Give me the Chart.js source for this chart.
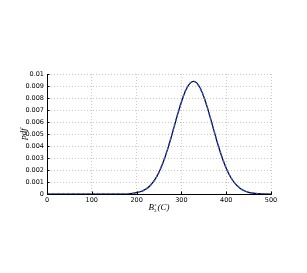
<!DOCTYPE html>
<html>
<head>
<meta charset="utf-8">
<script src="https://cdn.jsdelivr.net/npm/chart.js@4"></script>
<style>
html,body{margin:0;padding:0;background:#fff;}
canvas{display:block;}
</style>
</head>
<body>
<canvas id="c" width="307" height="273"></canvas>
<script>
const xValues = [0,10,20,30,40,50,60,70,80,90,100,110,120,130,140,150,160,170,180,190,200,210,220,230,240,250,260,270,280,290,300,310,320,330,340,350,360,370,380,390,400,410,420,430,440,450,460,470,480,490,500];
const pdfFit = [0,0,0,0,0,0,0,0,0,0,0,0,0,0,0,0,0,0,0,0.00005,0.00011,0.00021,0.00039,0.00069,0.00115,0.00182,0.00271,0.00382,0.00509,0.00643,0.00767,0.00867,0.00926,0.00937,0.00896,0.00811,0.00695,0.00563,0.00431,0.00313,0.00215,0.00139,0.00086,0.0005,0.00027,0.00014,0.00007,0.00003,0.00001,0,0];
const pdfEmp = [0,0,0,0,0,0,0,0,0,0,0,0,0,0,0,0,0,0,0,0.00004,0.0001,0.0002,0.00038,0.00068,0.00114,0.00183,0.00273,0.00385,0.00512,0.00646,0.00769,0.00868,0.00925,0.00935,0.00894,0.0081,0.00695,0.00564,0.00433,0.00315,0.00217,0.0014,0.00087,0.00051,0.00028,0.00014,0.00007,0.00003,0.00001,0,0];
const xTicks = [0,100,200,300,400,500];
const yMin = 0, yMax = 0.01, yStep = 0.001;
const xLabel = {base:'B', sup:'s', sub:'3', rest:'(C)'};
const yLabel = 'pdf';

const labelPlugin = {
  id:'labels',
  afterDraw(chart){
    const ctx = chart.ctx, a = chart.chartArea;
    ctx.save();
    // inward tick marks
    ctx.strokeStyle = '#000';
    ctx.lineWidth = 1;
    const ys = chart.scales.y, xs = chart.scales.x;
    ys.ticks.forEach(t=>{
      const py = Math.round(ys.getPixelForValue(t.value)) + 0.5;
      ctx.beginPath(); ctx.moveTo(a.left, py); ctx.lineTo(a.left + 2.5, py); ctx.stroke();
    });
    xs.ticks.forEach(t=>{
      const px = Math.round(xs.getPixelForValue(t.value)) + 0.5;
      ctx.beginPath(); ctx.moveTo(px, a.bottom); ctx.lineTo(px, a.bottom - 2.5); ctx.stroke();
    });
    ctx.fillStyle = '#000';
    // x label
    const cx = (a.left + a.right)/2;
    const y = a.bottom + 16;
    ctx.textBaseline = 'alphabetic';
    ctx.font = 'italic 9px "Liberation Serif", serif';
    const wB = ctx.measureText(xLabel.base).width;
    ctx.font = 'italic 5px "Liberation Serif", serif';
    const wS = ctx.measureText(xLabel.sup).width;
    ctx.font = 'italic 9px "Liberation Serif", serif';
    const wR = ctx.measureText(xLabel.rest).width;
    const total = wB + wS + 1.5 + wR;
    let x0 = cx - total/2;
    ctx.textAlign = 'left';
    ctx.font = 'italic 9px "Liberation Serif", serif';
    ctx.fillText(xLabel.base, x0, y);
    ctx.font = 'italic 5px "Liberation Serif", serif';
    ctx.fillText(xLabel.sup, x0 + wB + 0.5, y - 4);
    ctx.font = '5px "Liberation Serif", serif';
    ctx.fillText(xLabel.sub, x0 + wB, y + 2);
    ctx.font = 'italic 9px "Liberation Serif", serif';
    ctx.fillText(xLabel.rest, x0 + wB + wS + 1.5, y);
    // y label
    ctx.translate(a.left - 23, (a.top + a.bottom)/2);
    ctx.rotate(-Math.PI/2);
    ctx.textAlign = 'center';
    ctx.textBaseline = 'middle';
    ctx.font = 'italic 9px "Liberation Serif", serif';
    ctx.fillText(yLabel, 0, 0);
    ctx.restore();
  }
};

const tickFont = {family:'"DejaVu Sans", sans-serif', size:6.5};
const ctx = document.getElementById('c').getContext('2d');
new Chart(ctx, {
  type:'line',
  data:{
    datasets:[
      {data:xValues.map((x,i)=>({x:x,y:pdfEmp[i]})), borderColor:'#2f55ff', borderWidth:1.4, borderDash:[2.5,2.5], pointRadius:0, tension:0.3, fill:false},
      {data:xValues.map((x,i)=>({x:x,y:pdfFit[i]})), borderColor:'#000', borderWidth:1.2, pointRadius:0, tension:0.3, fill:false}
    ]
  },
  options:{
    responsive:false,
    animation:false,
    layout:{padding:{left:0,right:36,top:74,bottom:59}},
    plugins:{legend:{display:false}, tooltip:{enabled:false}},
    scales:{
      x:{
        type:'linear', min:0, max:500,
        afterBuildTicks(s){ s.ticks = xTicks.map(v=>({value:v})); },
        afterFit(s){ s.height = 20; },
        grid:{color:'#bdbdbd', drawTicks:false, lineWidth:0.8},
        border:{display:true, color:'#000', width:1, dash:[1,2]},
        ticks:{color:'#000', font:tickFont, padding:2, maxRotation:0, autoSkip:false}
      },
      y:{
        type:'linear', min:yMin, max:yMax,
        afterFit(s){ s.width = 47; },
        grid:{color:'#bdbdbd', drawTicks:false, lineWidth:0.8},
        border:{display:true, color:'#000', width:1, dash:[1,2]},
        ticks:{stepSize:yStep, color:'#000', font:tickFont, padding:3,
          callback:(v)=>Number(v.toFixed(3)).toString()}
      }
    }
  },
  plugins:[labelPlugin]
});
</script>
</body>
</html>
